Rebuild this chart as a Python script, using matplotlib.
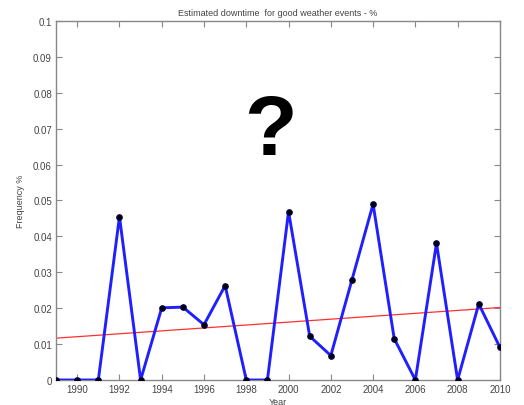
import numpy as np
import matplotlib
matplotlib.use("Agg")
import matplotlib.pyplot as plt

years = list(range(1989, 2011))
downtime = [0.0, 0.0, 0.0, 0.0455, 0.0, 0.0201, 0.0203, 0.0154, 0.0263, 0.0, 0.0,
            0.0469, 0.0122, 0.0068, 0.0279, 0.0490, 0.0115, 0.0, 0.0381, 0.0, 0.0212, 0.0091]
xticks = list(range(1990, 2011, 2))
yticks = [round(0.01 * i, 2) for i in range(11)]
ytick_labels = ["0"] + [f"{v:g}" for v in yticks[1:]]

plt.rcParams['font.family'] = ['Liberation Sans', 'DejaVu Sans']

fig = plt.figure(figsize=(5.24, 4.06), dpi=100)
ax = fig.add_axes([0.107, 0.0616, 0.847, 0.8842])

x = np.array(years, dtype=float)
y = np.array(downtime)

# linear trend through the yearly values
coef = np.polyfit(x, y, 1)
ax.plot(x[[0, -1]], np.polyval(coef, x[[0, -1]]), color='#ff3030', lw=0.9, zorder=2)

ax.plot(x, y, color='#2020ff', lw=2.1, marker='o', markersize=3.8,
        markerfacecolor='black', markeredgecolor='#000040', zorder=3)

ax.set_xlim(1989, 2010)
ax.set_ylim(0, 0.1)
ax.set_xticks(xticks)
ax.set_yticks(yticks)
ax.set_yticklabels(ytick_labels)

ax.tick_params(direction='in', length=4, width=0.8, colors='#888888',
               labelcolor='#444444', labelsize=7, top=True, right=True, pad=3)
for s in ax.spines.values():
    s.set_color('#888888')
    s.set_linewidth(1.0)

ax.set_title("Estimated downtime  for good weather events - %", fontsize=6.5,
             color='#444444', pad=4)
ax.set_xlabel("Year", fontsize=6.5, color='#444444', labelpad=2)
ax.set_ylabel("Frequency %", fontsize=6.5, color='#444444', labelpad=6)

fig.text(270 / 524, 1 - 133 / 406, "?", fontsize=62, fontweight='bold',
         ha='center', va='center', color='black')

fig.savefig("out.png", dpi=100)
